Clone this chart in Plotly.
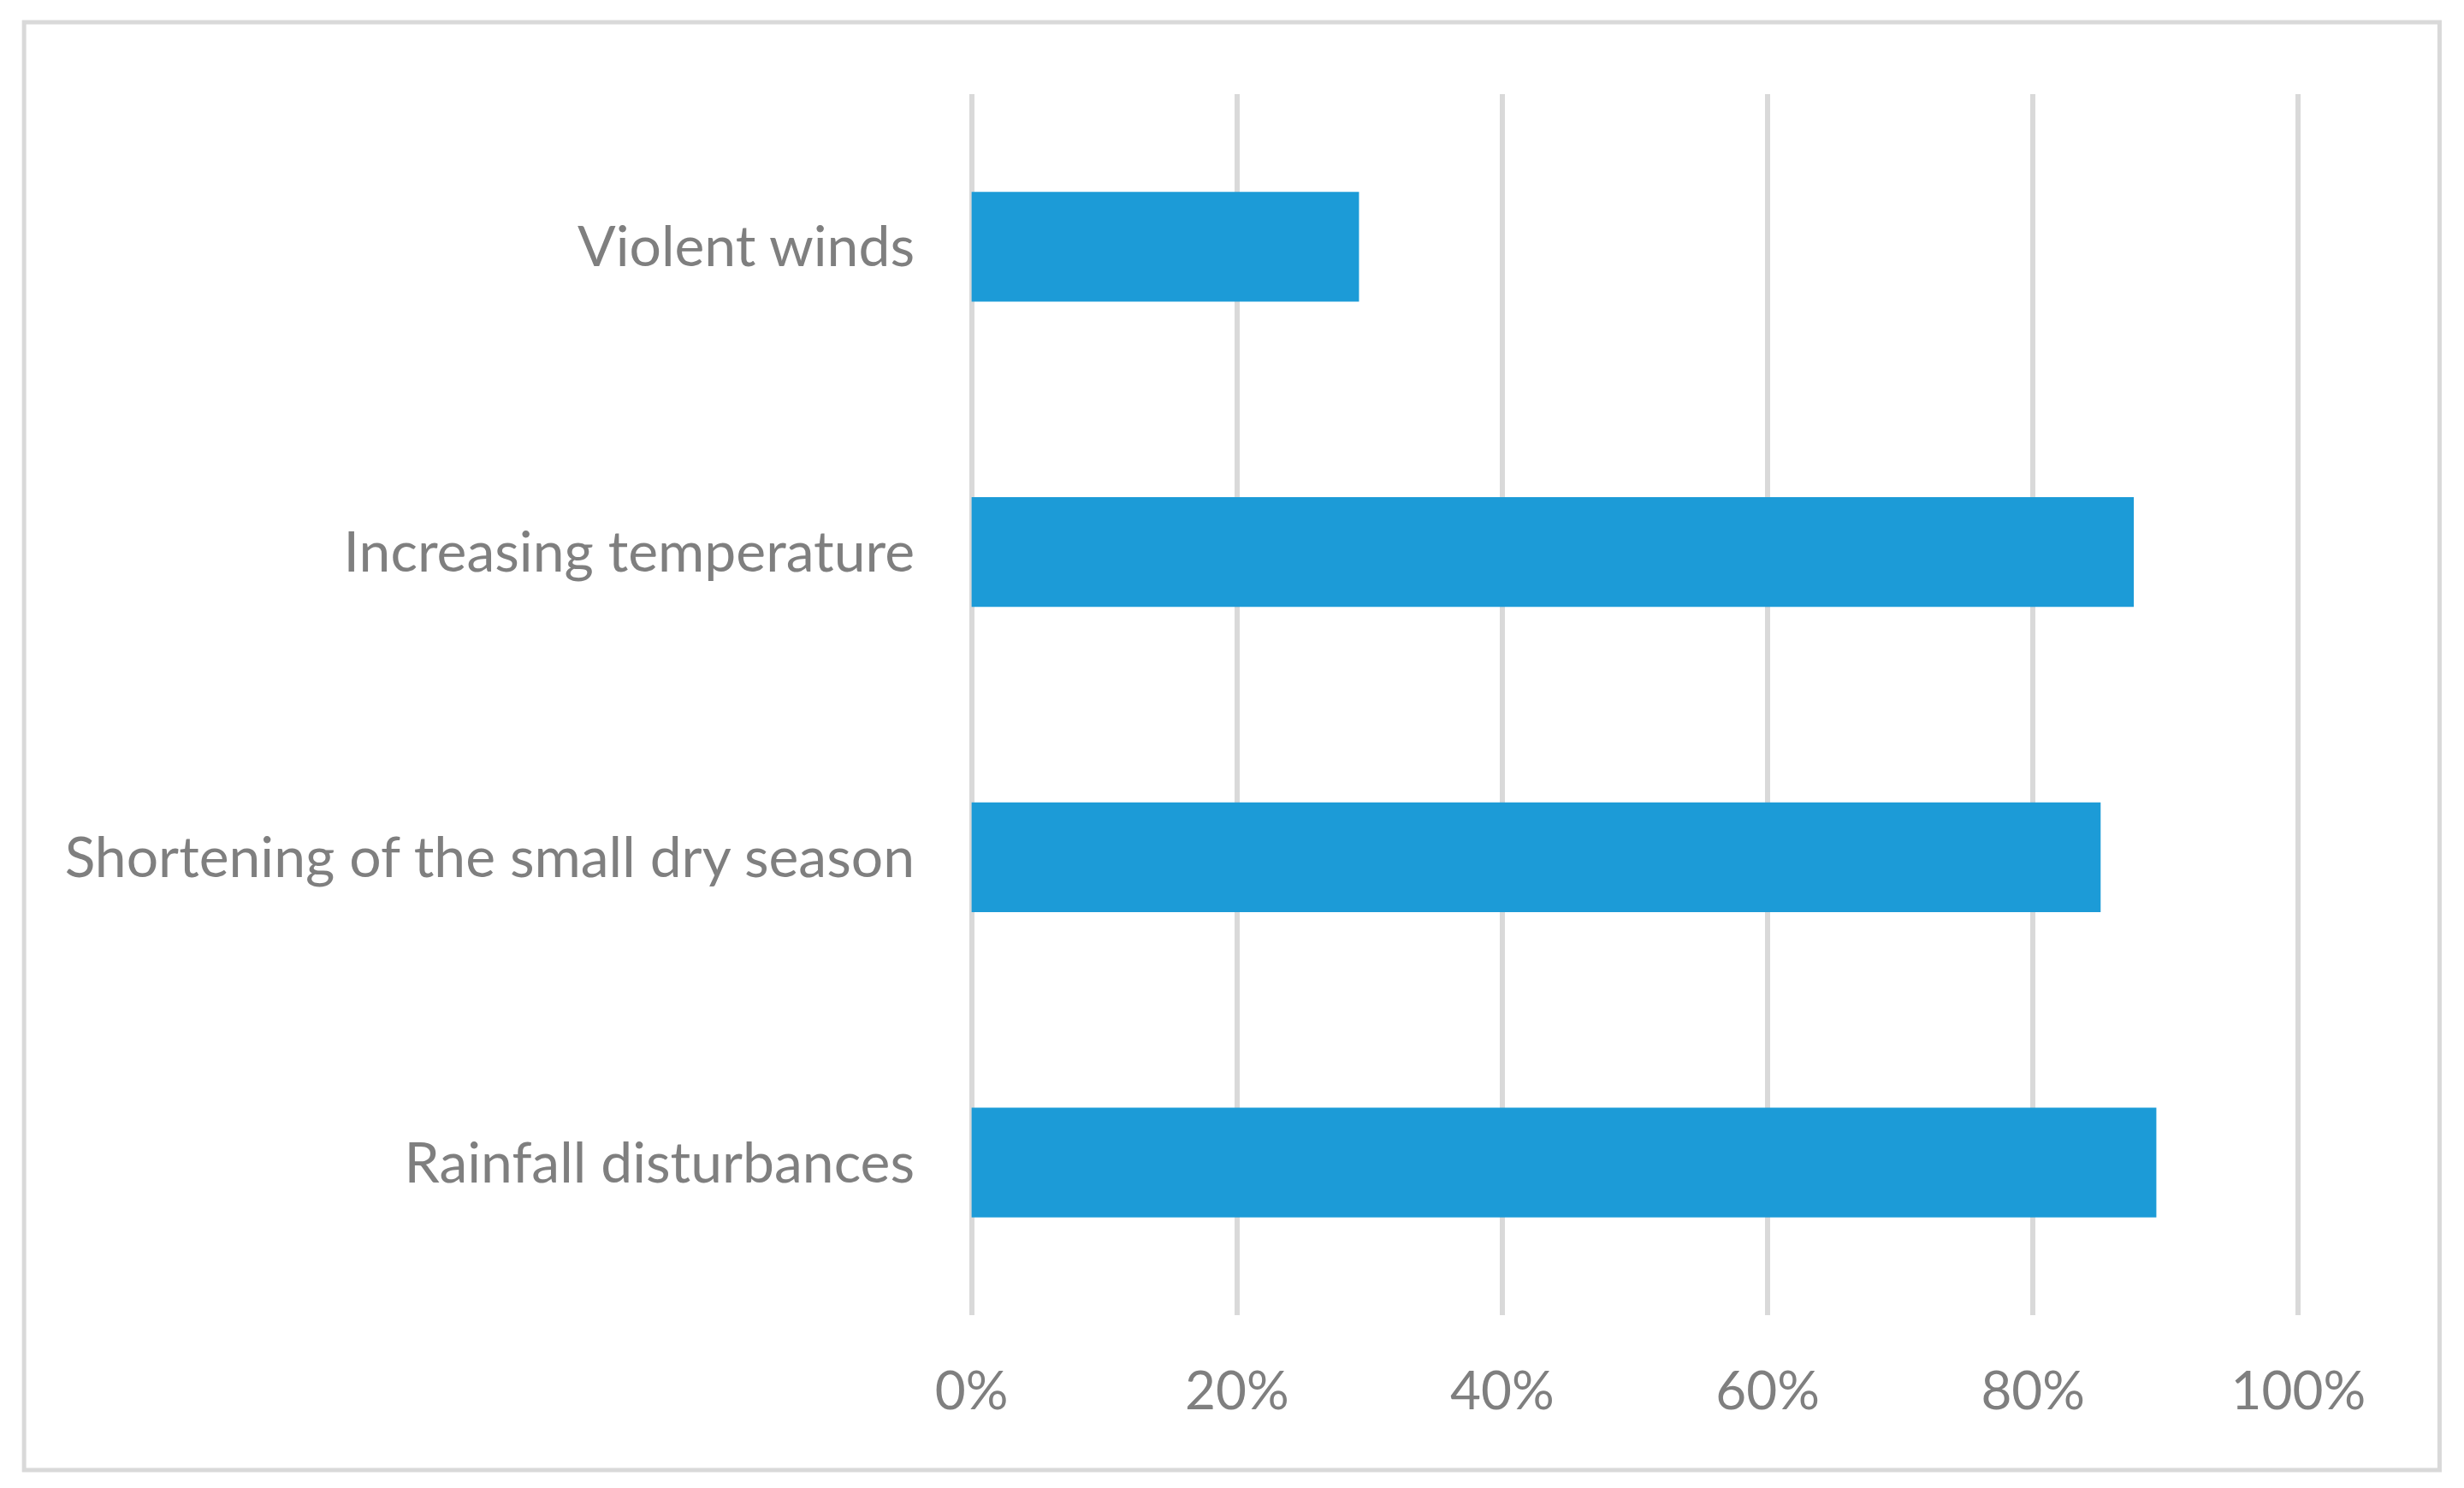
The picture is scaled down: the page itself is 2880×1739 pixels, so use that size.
import plotly.graph_objects as go

# climate change perceptions, share of respondents
categories = ["Violent winds", "Increasing temperature",
              "Shortening of the small dry season", "Rainfall disturbances"]
shares = [0.292, 0.876, 0.851, 0.893]
tick_vals = [0, 0.2, 0.4, 0.6, 0.8, 1.0]
tick_text = ["0%", "20%", "40%", "60%", "80%", "100%"]

# page body has an 8px margin, so draw the figure 8px smaller and shifted
OFF = 8
W, H = 2880 - OFF, 1739 - OFF
grey = "#7f7f7f"
grid = "#d9d9d9"

fig = go.Figure(go.Bar(
    x=shares,
    y=categories,
    orientation="h",
    width=0.36,
    marker=dict(color="#1c9bd7", line=dict(width=0)),
))

# 0..1 spans 1136..2686 px, y plot 110..1537 px (page coords)
pad = 0.003
ppu = 1550
x0_px = 1136 - OFF - pad * ppu
x1_px = 2686 - OFF + pad * ppu
l, r = x0_px, W - x1_px
t, b = 110 - OFF, H - (1537 - OFF)
pw, ph = W - l - r, H - t - b

fig.update_layout(
    width=W,
    height=H,
    margin=dict(l=l, r=r, t=t, b=b, pad=0),
    paper_bgcolor="white",
    plot_bgcolor="white",
    showlegend=False,
    font=dict(family="Lato", size=64, color=grey),
    xaxis=dict(
        range=[-pad, 1 + pad],
        tickvals=tick_vals,
        ticktext=tick_text,
        showgrid=True,
        gridcolor=grid,
        gridwidth=6,
        zeroline=False,
        showline=False,
        ticks="",
        ticklabelstandoff=47,
        tickfont=dict(size=62, color=grey),
    ),
    yaxis=dict(
        autorange="reversed",
        showgrid=False,
        zeroline=False,
        showline=False,
        ticks="",
        ticklabelstandoff=61,
        tickfont=dict(size=66, color=grey),
    ),
    shapes=[dict(
        type="rect", xref="paper", yref="paper",
        x0=(29 - OFF - l) / pw, x1=(2851 - OFF - l) / pw,
        y0=(H - b - (1718 - OFF)) / ph, y1=(H - b - (26 - OFF)) / ph,
        line=dict(color=grid, width=5),
        fillcolor="rgba(0,0,0,0)",
        layer="below",
    )],
)

fig.write_html("out.html")
